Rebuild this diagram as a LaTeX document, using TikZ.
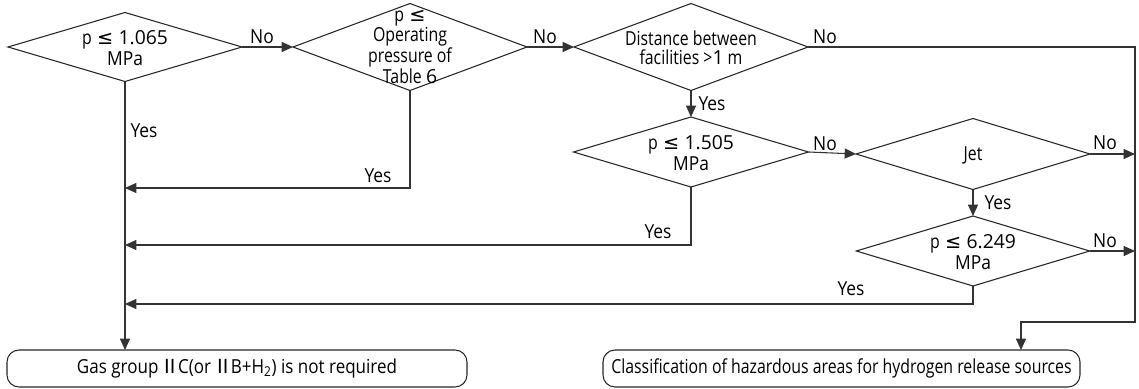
\documentclass[tikz,border=0pt]{standalone}
\usepackage{fontspec}
\setmainfont[FakeStretch=0.82]{Open Sans}
\newfontfamily\widefont{Open Sans}
\newfontfamily\labfont[FakeStretch=0.9]{Open Sans}
\newfontfamily\midfont[FakeStretch=0.88]{Open Sans}
\newfontfamily\symfont{DejaVu Sans}
\newfontfamily\cjkfont{Noto Sans CJK KR}
\newcommand\myle{\hspace{4pt}{\symfont ≤}\hspace{4pt}}
\newcommand\rtwo{\kern-1.5pt{\cjkfont Ⅱ}\kern-1.5pt}
\newcommand\nm[1]{{\widefont #1}}
\newcommand\mpa{{\labfont MPa}}
\usetikzlibrary{shapes.geometric,arrows.meta}
\begin{document}
\begin{tikzpicture}[x=0.75pt,y=-0.75pt,
  dec/.style={draw=black!85, diamond, inner sep=0pt, outer sep=0pt, line width=0.8pt},
  lbl/.style={font=\fontsize{14.5}{15.5}\selectfont, align=center, inner sep=0pt},
  yn/.style={font=\fontsize{14.5}{15.5}\selectfont\labfont, inner sep=0pt},
  term/.style={draw=black!85, rounded corners=9pt, inner sep=0pt, outer sep=0pt, line width=0.8pt, minimum height=27.75pt, font=\fontsize{14.5}{15.5}\selectfont},
  conn/.style={line width=0.8pt, draw=black!80},
  arr/.style={conn, -{Triangle[length=8.5pt,width=7.5pt]}}]
\useasboundingbox (0,0) rectangle (1139,389);
% decisions
\node[dec, minimum width=175.5pt, minimum height=51.75pt] (d1) at (125,47) {};
\node[dec, minimum width=175.5pt, minimum height=65.25pt] (d2) at (410,47) {};
\node[dec, minimum width=175.5pt, minimum height=65.25pt] (d3) at (691,47) {};
\node[dec, minimum width=176.25pt, minimum height=52.5pt] (d4) at (691,152) {};
\node[dec, minimum width=175.5pt, minimum height=53.25pt] (d5) at (973,154) {};
\node[dec, minimum width=175pt, minimum height=52.5pt] (d6) at (973,251) {};
\node[lbl] (t1x) at (125,48) {p\myle\nm{1.065}\\\mpa};
\node[lbl, font=\fontsize{14.5}{13.5}\selectfont] (t2x) at (410,47) {p\myle\\Operating\\pressure of\\Table \nm{6}};
\node[lbl, font=\fontsize{14.5}{14.5}\selectfont] (t3x) at (691,48) {Distance between\\facilities >\nm{1} m};
\node[lbl] (t4x) at (691,153) {p\myle\nm{1.505}\\\mpa};
\node[lbl] (t5x) at (973,155) {Jet};
\node[lbl] (t6x) at (973,252) {p\myle\nm{6.249}\\\mpa};
% terminals
\node[term, minimum width=345pt, font=\fontsize{14.5}{15.5}\selectfont\midfont] (b1) at (237,368.5) {Gas group \rtwo C(or \rtwo B+H\textsubscript{2}) is not required};
\node[term, minimum width=357.75pt] (b2) at (841.5,368.5) {Classification of hazardous areas for hydrogen release sources};
% helper coordinates
\coordinate (rtop) at (1135,47);
\coordinate (rbot) at (1135,322);
\coordinate (tin) at (1021,350);
\coordinate (lin) at (125,350);
\coordinate (j1) at (125,188);
\coordinate (j2) at (125,245);
\coordinate (j3) at (125,304);
% connectors
\draw[arr] (d1.east) -- (d2.west);
\draw[arr] (d2.east) -- (d3.west);
\draw[arr] (d3.east) -- (rtop) -- (rbot) -| (tin);
\draw[arr] (d3.south) -- (d4.north);
\draw[arr] (d4.east) -- (d5.west);
\draw[arr] (d5.east) -- (d5.east -| rtop);
\draw[arr] (d5.south) -- (d6.north);
\draw[arr] (d6.east) -- (d6.east -| rtop);
\draw[arr] (d1.south) -- (lin);
\draw[arr] (d2.south) |- (j1);
\draw[arr] (d4.south) |- (j2);
\draw[arr] (d6.south) |- (j3);
% labels
\node[yn] (l1) at (262,37) {No};
\node[yn] (l2) at (545,37) {No};
\node[yn] (l3) at (825,37) {No};
\node[yn] (l4) at (712,104) {Yes};
\node[yn] (l5) at (825,144) {No};
\node[yn] (l6) at (1105,143) {No};
\node[yn] (l7) at (998,203) {Yes};
\node[yn] (l8) at (1105,241) {No};
\node[yn] (l9) at (144,131) {Yes};
\node[yn] (l10) at (378,176) {Yes};
\node[yn] (l11) at (658,232) {Yes};
\node[yn] (l12) at (851,289) {Yes};
\end{tikzpicture}
\end{document}
